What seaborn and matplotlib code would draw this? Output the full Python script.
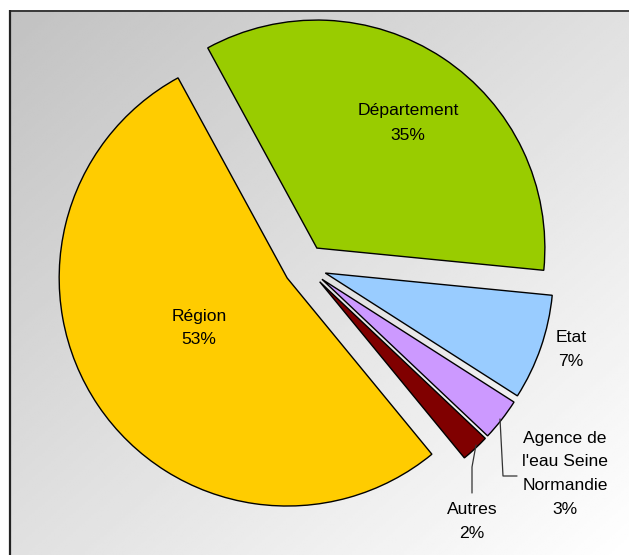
import numpy as np
import matplotlib
matplotlib.use("Agg")
import matplotlib.pyplot as plt
import seaborn as sns

# Data
categories = ["Département", "Etat", "Agence de\nl'eau Seine\nNormandie", "Autres", "Région"]
shares = [34.5, 7.5, 3, 2, 53]          # slice sizes
pct_labels = ["35%", "7%", "3%", "2%", "53%"]
colors = ["#99cc00", "#99ccff", "#cc99ff", "#800000", "#ffcc00"]

sns.set_theme(style="white")
plt.rcParams['font.family'] = ['Liberation Sans', 'DejaVu Sans']

W, H = 629, 555
fig = plt.figure(figsize=(W / 100, H / 100), dpi=100)
ax = fig.add_axes([0, 0, 1, 1])

# gradient background inside the frame (top-left grey -> bottom-right white)
fx0, fy_top = 9, 10
gx = np.linspace(0, 1, 200)
gy = np.linspace(0, 1, 200)
GX, GY = np.meshgrid(gx, gy)
t = (GX + GY) / 2
grad = 0.76 + (1.0 - 0.76) * t
ax.imshow(grad, cmap='gray', vmin=0, vmax=1, extent=(fx0, W, 0, H - fy_top),
          origin='upper', aspect='auto', zorder=0, interpolation='bilinear')
ax.plot([fx0 + 0.5, fx0 + 0.5], [0, H - fy_top], color='#222222', lw=1.6, zorder=1,
        solid_capstyle='butt')
ax.plot([fx0, W], [H - fy_top - 0.5, H - fy_top - 0.5], color='#222222', lw=1.2, zorder=1,
        solid_capstyle='butt')

# pie (explode is in data units here since radius is in pixels)
cx, cy = 305, H - 266
R = 228
wedges, _ = ax.pie(shares, colors=colors, startangle=118.6, counterclock=False,
                   explode=[21.5] * len(shares), radius=R, center=(cx, cy),
                   wedgeprops=dict(edgecolor='black', linewidth=1.0),
                   frame=True)
for w in wedges:
    w.set_zorder(3)
ax.set_xlim(0, W)
ax.set_ylim(0, H)
ax.set_aspect('equal')
ax.axis('off')

# labels (pixel positions of the text centres, image coords)
label_pos = [(408, 123), (571, 349), (565, 474), (472, 521), (199, 328)]
for name, pct, (x, y) in zip(categories, pct_labels, label_pos):
    ax.text(x, H - y, f"{name}\n{pct}", ha='center', va='center', fontsize=12.6,
            linespacing=1.75, color='black', zorder=5)

# leader lines for the small slices
ax.plot([500, 503, 517], [H - 419, H - 476, H - 476], color='#333333', lw=0.9, zorder=4)
ax.plot([476, 472, 472], [H - 445, H - 467, H - 493], color='#333333', lw=0.9, zorder=4)

fig.savefig("out.png", dpi=100)
